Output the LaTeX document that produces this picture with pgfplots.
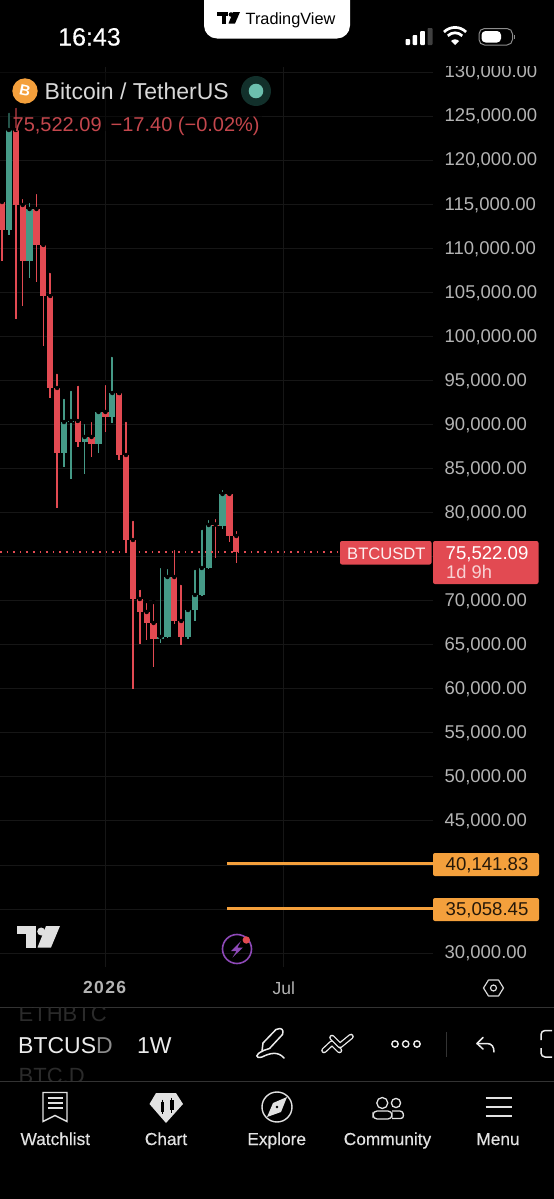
\documentclass[border=0pt]{standalone}
\usepackage{fontspec}
\setmainfont{Liberation Sans}
\usepackage{pgfplots}
\usepackage{pgfplotstable}
\pgfplotsset{compat=1.18}
\newcommand{\fs}[1]{\fontsize{#1bp}{#1bp}\selectfont}
\definecolor{cred}{HTML}{E24A52}
\definecolor{cgreen}{HTML}{459A87}
\definecolor{gridc}{HTML}{161616}
\definecolor{orng}{HTML}{F4A03C}
\definecolor{lbl}{HTML}{B4B4B4}
\definecolor{nav}{HTML}{E2E2E2}
\definecolor{dotdark}{HTML}{12302B}
\definecolor{dotc}{HTML}{6CBFAE}
\definecolor{redtxt}{HTML}{C4474D}
\definecolor{purp}{HTML}{8E49B8}
\pgfplotstableread{
x top bot high low
0 115245 112067 115358 108548
2 123417 114904 126141 101965
3 114904 108548 115812 103441
5 114450 110364 116380 106165
6 110364 104576 110591 98901
7 104576 94134 107413 92999
8 94134 86756 95950 80514
11 90388 88005 94588 87437
13 88572 87778 90502 86302
15 91410 90842 94701 89140
17 93566 86529 93566 85962
18 86529 76882 90502 75520
19 76882 70185 79265 59970
20 70185 68710 71434 65078
21 68710 67461 69958 65532
22 67461 65645 69845 62467
25 72682 67688 75974 67348
26 67688 65872 72001 64964
31 78641 78471 79492 74839
33 82103 77336 82216 76655
34 77336 75522 78130 74271
}\redcandles
\pgfplotstableread{
x top bot high low
1 123417 112067 125573 111500
4 114450 108548 115358 106619
9 90275 86756 93112 85167
10 90388 90275 94020 83805
12 88572 88005 90275 84373
14 91410 87778 91750 86756
16 93566 90842 97879 90161
23 65872 65645 73931 65191
24 72682 65872 73817 65759
27 68937 65872 69164 65645
28 70639 68937 73704 67688
29 73704 70639 78244 70526
30 78584 73704 79379 73590
32 82103 78471 82784 78130
}\greencandles
\begin{document}
\begin{tikzpicture}
\path[use as bounding box] (0bp,0bp) rectangle (554bp,-1199bp);
\fill[black] (-3bp,3bp) rectangle (557bp,-1202bp);
\begin{axis}[
  at={(0bp,-967bp)}, anchor=south west, scale only axis,
  width=433bp, height=900bp,
  xmin=-0.29, xmax=62.55,
  ymin=28417.5, ymax=130567.5,
  axis line style={draw=none},
  major tick length=0pt,
  tick style={draw=none},
  ymajorgrids, xmajorgrids,
  grid style={gridc, line width=0.9bp},
  ytick={30000,45000,50000,55000,60000,65000,70000,80000,85000,90000,95000,100000,105000,110000,115000,120000,125000,130000},
  extra y ticks={35000,40000,75000},
  extra y tick labels={},
  extra y tick style={grid style={gridc, line width=0.9bp}},
  xtick={15,40.9},
  xticklabels={{\addfontfeature{LetterSpace=8}\textbf{2026}},Jul},
  x tick label style={font=\fs{17.5}, text=lbl, inner sep=0pt, yshift=-14.5bp},
  yticklabel pos=right,
  y tick label style={font=\fs{18.5}, text=lbl, inner sep=0pt, anchor=west, xshift=11.5bp, yshift=-0.6bp},
  /pgf/number format/assume math mode=true,
  /pgf/number format/fixed,
  /pgf/number format/fixed zerofill,
  /pgf/number format/precision=2,
  /pgf/number format/1000 sep={,},
  scaled y ticks=false,
]
% wicks
\addplot[only marks, mark=none, error bars/.cd, y dir=minus, y explicit, error mark=none,
  error bar style={cred, line width=1.5bp}]
  table[x=x, y=high, y error minus expr=\thisrow{high}-\thisrow{low}] {\redcandles};
\addplot[only marks, mark=none, error bars/.cd, y dir=minus, y explicit, error mark=none,
  error bar style={cgreen, line width=1.5bp}]
  table[x=x, y=high, y error minus expr=\thisrow{high}-\thisrow{low}] {\greencandles};
% bodies
\addplot[only marks, mark=none, error bars/.cd, y dir=minus, y explicit, error mark=none,
  error bar style={cred, line width=6.3bp}]
  table[x=x, y=top, y error minus expr=\thisrow{top}-\thisrow{bot}] {\redcandles};
\addplot[only marks, mark=none, error bars/.cd, y dir=minus, y explicit, error mark=none,
  error bar style={cgreen, line width=6.3bp}]
  table[x=x, y=top, y error minus expr=\thisrow{top}-\thisrow{bot}] {\greencandles};
% price line and levels
\addplot[cred, line width=1.3bp, dash pattern=on 1.6bp off 5bp] coordinates {(-0.29,75522.09) (49.1,75522.09)};
\addplot[orng, line width=3bp] coordinates {(32.7,40141.83) (62.55,40141.83)};
\addplot[orng, line width=3bp] coordinates {(32.7,35058.45) (62.55,35058.45)};
\end{axis}
\begin{scope}[x=1bp,y=-1bp]
% dim header over candles, cut top of scale
\fill[black,opacity=.45] (0,72) rectangle (262,130.5);
\fill[black] (436,40) rectangle (554,66);
% status bar
\node[anchor=base west,inner sep=0,text=white] at (58,45.5) {\fs{25}\addfontfeature{FakeBold=0.3}16:43};
\fill[white,rounded corners=13bp] (204,0) -- (204,38.5) -- (350,38.5) -- (350,0);
\fill[black] (217,12) rectangle (228,16);
\fill[black] (221.5,12) rectangle (226,23.5);
\fill[black] (231,14.5) circle (2.3);
\fill[black] (233,12) -- (240,12) -- (235,23.5) -- (228.5,23.5) -- cycle;
\node[anchor=base west,inner sep=0,text=black] at (245.5,24) {\fs{16.3}TradingView};
\foreach \a/\b/\t/\c in {405.5/410/39/white,412.7/417.2/35/white,420.2/424.8/31/white,427.5/432.5/28/white!25!black}
  \fill[\c,rounded corners=.8bp] (\a,45) rectangle (\b,\t);
\fill[white] (455,45) -- (451,41) arc[start angle=225,end angle=315,radius=5.7] -- cycle;
\draw[white,line width=2.7bp] (455-7.2,43-7.2) arc[start angle=225,end angle=315,radius=10.2];
\draw[white,line width=2.7bp] (455-11,43-11) arc[start angle=225,end angle=315,radius=15.6];
\draw[white!55!black,line width=1bp,rounded corners=5.5bp] (479,28.5) rectangle (512.5,45);
\fill[white,rounded corners=4bp] (481.5,31) rectangle (501,42.5);
\fill[white!55!black] (514,34.5) rectangle (515.2,39);
% header
\fill[orng] (25,91) circle (12.7);
\node[text=white,inner sep=0,rotate=-12] at (25,91) {\fs{15}\textbf{B}};
\node[anchor=base west,inner sep=0,text=white!85!black] at (44.5,99.5) {\fs{23}Bitcoin / TetherUS};
\fill[dotdark] (256,91) circle (15);
\fill[dotc] (256,91) circle (7.3);
\node[anchor=base west,inner sep=0,text=redtxt] at (12.5,131) {\fs{20}75,522.09\hspace{9bp}−17.40 (−0.02\%)};
% price labels
\fill[cred,rounded corners=2bp] (340,541) rectangle (431.5,564.5);
\node[anchor=base west,inner sep=0,text=white!92!cred] at (347,559.5) {\fs{16.6}BTCUSDT};
\fill[cred,rounded corners=2bp] (433,541) rectangle (538.5,584);
\node[anchor=base west,inner sep=0,text=white] at (445.5,559.5) {\fs{18.6}75,522.09};
\node[anchor=base west,inner sep=0,text=white!75!cred] at (446,578.5) {\fs{18.3}1d 9h};
\fill[orng,rounded corners=2bp] (433,853) rectangle (539,876);
\node[anchor=base west,inner sep=0,text=black!85!orng] at (445.5,870.5) {\fs{18.6}40,141.83};
\fill[orng,rounded corners=2bp] (433,898) rectangle (539,921);
\node[anchor=base west,inner sep=0,text=black!85!orng] at (445.5,915.5) {\fs{18.6}35,058.45};
% TV logo
\fill[white!88!black] (17,926) rectangle (36,933.5);
\fill[white!88!black] (26,926) rectangle (35.5,947.5);
\fill[white!88!black] (41.2,931.5) circle (4);
\fill[white!88!black] (46,926) -- (60,926) -- (51,947.5) -- (37.5,947.5) -- cycle;
% lightning
\draw[purp,line width=1.6bp] (237,949) circle (14.5);
\fill[purp] (241,941) -- (231,951) -- (236.5,951) -- (232.5,957.5) -- (243,947.5) -- (237.5,947.5) -- cycle;
\fill[cred] (246.3,940) circle (3.7);
% settings hexagon
\draw[white!85!black,line width=1.2bp,line join=round] (483.5,988) -- (488.5,980) -- (498.5,980) -- (503.5,988) -- (498.5,996) -- (488.5,996) -- cycle;
\draw[white!85!black,line width=1.2bp] (493.5,988) circle (3);
% toolbar
\draw[white!20!black,line width=1bp] (0,1007) -- (554,1007);
\draw[white!20!black,line width=1bp] (0,1081) -- (554,1081);
\begin{scope}
\clip (0,1007.5) rectangle (300,1040);
\node[anchor=base west,inner sep=0,text=white!17!black] at (18.5,1021.5) {\fs{22}ETHBTC};
\end{scope}
\begin{scope}
\clip (0,1060) rectangle (300,1080.5);
\node[anchor=base west,inner sep=0,text=white!17!black] at (18.5,1083.5) {\fs{22}BTC.D};
\end{scope}
\node[anchor=base west,inner sep=0,text=white!92!black] at (18,1053) {\fs{23}BTCUS{\color{white!55!black}D}};
\node[anchor=base west,inner sep=0,text=white!92!black] at (137,1053) {\fs{23}1W};
% pencil
\draw[white!92!black,line width=1.5bp,line join=round] (263,1043) -- (276,1029.5) -- (280,1028.5) arc[start angle=-90,end angle=0,radius=3] -- (282.5,1034.5) -- (269.5,1048.5) -- (262,1051) -- cycle;
\draw[white!92!black,line width=1.5bp,line cap=round] (263,1051) .. controls (255,1054) and (255,1059) .. (262,1057) .. controls (270,1053) and (278,1051) .. (284,1058);
% chevrons
\draw[white!92!black,double=black,double distance=3bp,line width=1.3bp,line join=round,line cap=round] (324,1050.5) -- (332,1043) -- (339.5,1050.5);
\draw[white!92!black,double=black,double distance=3bp,line width=1.3bp,line join=round,line cap=round] (332,1037.5) -- (340,1045.5) -- (351,1036.5);
% dots
\foreach \x in {395,405.7,417} \draw[white!92!black,line width=1.4bp] (\x,1044) circle (3.2);
\draw[white!20!black,line width=1bp] (446,1032) -- (446,1057);
% undo
\draw[white!92!black,line width=1.5bp,line cap=round,line join=round] (483,1037.5) -- (477,1043.5) -- (483,1049);
\draw[white!92!black,line width=1.5bp,line cap=round] (477,1043.5) -- (487,1043.5) .. controls (492,1043.5) and (494,1047) .. (494,1052);
% bracket
\draw[white!92!black,line width=1.5bp,rounded corners=4bp] (552,1030.5) -- (541,1030.5) -- (541,1040);
\draw[white!92!black,line width=1.5bp,rounded corners=4bp] (541,1048) -- (541,1057) -- (552,1057);
% nav icons: bookmark
\draw[nav,line width=1.4bp,line join=miter] (43,1092.5) -- (67,1092.5) -- (67,1121.5) -- (55,1115.5) -- (43,1121.5) -- cycle;
\foreach \y in {1098,1103,1108} \draw[nav,line width=1.3bp] (47.5,\y) -- (62.5,\y);
% chart
\fill[nav] (156,1093) -- (176,1093) -- (183,1104) -- (166,1123) -- (149.5,1104) -- cycle;
\fill[black] (160.5,1102) rectangle (164,1112);
\draw[black,line width=1bp] (162.2,1099.5) -- (162.2,1114);
\fill[black] (170,1100) rectangle (173.5,1110);
\draw[black,line width=1bp] (171.7,1097.5) -- (171.7,1112.5);
% explore
\draw[nav,line width=1.4bp] (277,1107) circle (15);
\fill[nav] (287,1097) -- (281,1112) -- (267,1117) -- (273,1103) -- cycle;
\fill[black] (277,1107) circle (1.3);
% community
\draw[nav,line width=1.3bp] (382.3,1103) circle (5.5);
\draw[nav,line width=1.3bp] (396,1103) circle (4.6);
\draw[nav,line width=1.3bp,rounded corners=4bp] (373,1119) -- (373,1111) -- (392,1111) -- (392,1119) -- cycle;
\draw[nav,line width=1.3bp,rounded corners=3bp] (392,1111) -- (403,1111) -- (403.7,1118.5) -- (392,1118.5);
% menu
\foreach \y in {1098,1107,1116} \draw[nav,line width=1.5bp] (485.5,\y) -- (511.5,\y);
% nav labels
\foreach \x/\t in {55.3/Watchlist,166/Chart,276.7/Explore,387.5/Community,498/Menu}
  \node[anchor=base,inner sep=0,text=nav] at (\x,1145) {\fs{17.3}\addfontfeature{FakeBold=0.35}\t};
\end{scope}
\end{tikzpicture}
\end{document}
